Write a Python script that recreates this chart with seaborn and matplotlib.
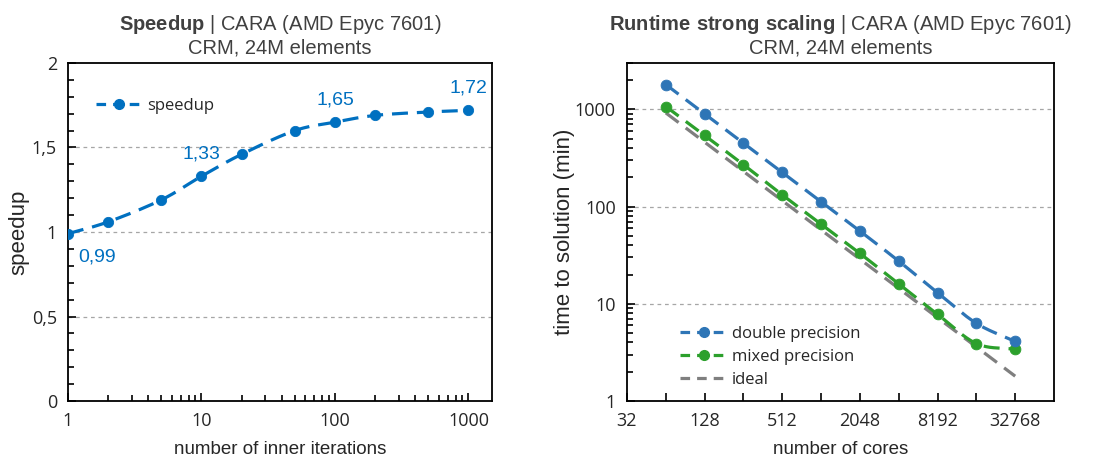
import numpy as np
import pandas as pd
import seaborn as sns
import matplotlib.pyplot as plt
from matplotlib.ticker import FixedLocator, NullFormatter, FuncFormatter

# speedup vs inner iterations
iters = [1, 2, 5, 10, 20, 50, 100, 200, 500, 1000]
speedup = [0.99, 1.06, 1.19, 1.33, 1.46, 1.60, 1.65, 1.69, 1.71, 1.72]
labeled = {1: "0,99", 10: "1,33", 100: "1,65", 1000: "1,72"}

# strong scaling
cores = [64, 128, 256, 512, 1024, 2048, 4096, 8192, 16384, 32768]
t_double = [1800, 900, 450, 225, 112, 56, 27.5, 13, 6.3, 4.1]
t_mixed = [1070, 540, 270, 132, 66, 33, 16, 7.8, 3.9, 3.4]
t_ideal = [920, 460, 230, 115, 57.5, 28.8, 14.4, 7.2, 3.6, 1.8]

BLUE_L = "#0070C0"
BLUE = "#2E75B6"
GREEN = "#2CA02C"
GREY = "#7F7F7F"
DASH = (0, (5, 2.8))


def smooth(x, y, n=20):
    # catmull-rom through the points (like excel smoothed lines)
    x = np.asarray(x, float); y = np.asarray(y, float)
    p = np.column_stack([x, y])
    p = np.vstack([p[0] - (p[1] - p[0]), p, p[-1] + (p[-1] - p[-2])])
    out = []
    for i in range(1, len(p) - 2):
        p0, p1, p2, p3 = p[i - 1], p[i], p[i + 1], p[i + 2]
        t = np.linspace(0, 1, n, endpoint=False)[:, None]
        c = 0.5 * ((2 * p1) + (-p0 + p2) * t + (2 * p0 - 5 * p1 + 4 * p2 - p3) * t ** 2
                   + (-p0 + 3 * p1 - 3 * p2 + p3) * t ** 3)
        out.append(c)
    out.append(p[-2][None, :])
    out = np.vstack(out)
    return out[:, 0], out[:, 1]


sns.set_theme(style="white")
plt.rcParams["font.family"] = ["Liberation Sans", "DejaVu Sans"]
plt.rcParams["mathtext.fontset"] = "custom"
plt.rcParams["mathtext.bf"] = "Liberation Sans:bold"
plt.rcParams["mathtext.rm"] = "Liberation Sans"
plt.rcParams["axes.edgecolor"] = "black"
plt.rcParams["axes.linewidth"] = 1.3

fig = plt.figure(figsize=(11.11, 4.65), dpi=100)
ax1 = fig.add_axes([68 / 1111, 1 - 401 / 465, 424 / 1111, 338 / 465])
ax2 = fig.add_axes([627 / 1111, 1 - 401 / 465, 427 / 1111, 338 / 465])

tickfam = ["Open Sans", "DejaVu Sans"]

# ---- left: speedup
lx, ly = smooth(np.log10(iters), speedup)
sns.lineplot(x=10 ** lx, y=ly, ax=ax1, color=BLUE_L, lw=2.3, linestyle=DASH)
sns.scatterplot(x=iters, y=speedup, ax=ax1, color=BLUE_L, s=55, edgecolor=BLUE_L, zorder=5)
ax1.set_xscale("log")
ax1.set_xlim(1, 1500)
ax1.set_ylim(0, 2)
ax1.xaxis.set_major_locator(FixedLocator([1, 10, 100, 1000]))
ax1.xaxis.set_major_formatter(FuncFormatter(lambda v, p: f"{v:g}"))
ax1.xaxis.set_minor_locator(FixedLocator([m * 10 ** e for e in range(0, 3) for m in range(2, 10)]))
ax1.xaxis.set_minor_formatter(NullFormatter())
ax1.yaxis.set_major_locator(FixedLocator([0, 0.5, 1, 1.5, 2]))
ax1.yaxis.set_major_formatter(FuncFormatter(lambda v, p: f"{v:g}".replace(".", ",")))
ax1.yaxis.set_minor_locator(FixedLocator(np.arange(0.1, 2.0, 0.1)))
for v in [0.5, 1, 1.5]:
    ax1.axhline(v, color="#A6A6A6", lw=0.9, ls=(0, (3, 3)), zorder=0)
ax1.tick_params(which="both", direction="in", left=True, bottom=True, colors="black", labelcolor="#262626")
ax1.tick_params(which="major", length=6, width=1.2, pad=8)
ax1.tick_params(which="minor", length=4, width=1.2)
for lab in ax1.get_xticklabels() + ax1.get_yticklabels():
    lab.set_fontfamily(tickfam); lab.set_fontsize(13)
ax1.set_xlabel("number of inner iterations", fontsize=13.5, color="#262626", labelpad=8)
ax1.set_ylabel("speedup", fontsize=16, color="#262626", labelpad=2)
for xv, yv in zip(iters, speedup):
    if xv in labeled:
        if xv == 1:
            ax1.text(xv * 1.2, yv - 0.14, labeled[xv], color=BLUE_L, fontsize=14, ha="left", va="center")
        else:
            ax1.text(xv, yv + 0.13, labeled[xv], color=BLUE_L, fontsize=14, ha="center", va="center")
h = plt.Line2D([], [], color=BLUE_L, lw=2.3, linestyle=(0, (3, 2.2)), marker="o", markersize=7)
ax1.legend([h], ["speedup"], loc="center left", bbox_to_anchor=(0.03, 0.873), frameon=False,
           prop={"family": tickfam, "size": 12}, handlelength=2.8, handletextpad=0.3)
ax1.set_title("$\\bf{Speedup}$ | CARA (AMD Epyc 7601)\nCRM, 24M elements", fontsize=14.5,
              color="#404040", pad=7, linespacing=1.15)

# ---- right: strong scaling
df = pd.DataFrame({"cores": cores, "double": t_double, "mixed": t_mixed, "ideal": t_ideal})
for col, c in [("ideal", GREY), ("mixed", GREEN), ("double", BLUE)]:
    sx, sy = smooth(np.log2(df["cores"]), np.log10(df[col]))
    sns.lineplot(x=2 ** sx, y=10 ** sy, ax=ax2, color=c, lw=2.3, linestyle=DASH)
    if col != "ideal":
        sns.scatterplot(data=df, x="cores", y=col, ax=ax2, color=c, s=60, edgecolor=c, zorder=5)
ax2.set_xscale("log", base=2)
ax2.set_yscale("log")
ax2.set_xlim(32, 65536)
ax2.set_ylim(1, 3000)
ax2.xaxis.set_major_locator(FixedLocator([32, 128, 512, 2048, 8192, 32768]))
ax2.xaxis.set_major_formatter(FuncFormatter(lambda v, p: f"{v:g}"))
ax2.xaxis.set_minor_locator(FixedLocator([64, 256, 1024, 4096, 16384]))
ax2.xaxis.set_minor_formatter(NullFormatter())
ax2.yaxis.set_major_locator(FixedLocator([1, 10, 100, 1000]))
ax2.yaxis.set_major_formatter(FuncFormatter(lambda v, p: f"{v:g}"))
ax2.yaxis.set_minor_locator(FixedLocator([m * 10 ** e for e in range(0, 4) for m in range(2, 10)]))
ax2.yaxis.set_minor_formatter(NullFormatter())
for v in [10, 100, 1000]:
    ax2.axhline(v, color="#A6A6A6", lw=0.9, ls=(0, (3, 3)), zorder=0)
ax2.tick_params(which="both", direction="in", left=True, bottom=True, colors="black", labelcolor="#262626")
ax2.tick_params(which="major", length=6, width=1.2, pad=8)
ax2.tick_params(which="minor", length=6, width=1.2)
ax2.tick_params(axis="y", which="minor", length=4)
for lab in ax2.get_xticklabels() + ax2.get_yticklabels():
    lab.set_fontfamily(tickfam); lab.set_fontsize(13)
ax2.set_xlabel("number of cores", fontsize=13.5, color="#262626", labelpad=8)
ax2.set_ylabel("time to solution (min)", fontsize=16, color="#262626", labelpad=0)
hs = [plt.Line2D([], [], color=BLUE, lw=2.3, linestyle=(0, (3, 2.2)), marker="o", markersize=7),
      plt.Line2D([], [], color=GREEN, lw=2.3, linestyle=(0, (3, 2.2)), marker="o", markersize=7),
      plt.Line2D([], [], color=GREY, lw=2.3, linestyle=(0, (3, 2.2)))]
ax2.legend(hs, ["double precision", "mixed precision", "ideal"], loc="lower left",
           bbox_to_anchor=(0.09, -0.005), frameon=False,
           prop={"family": tickfam, "size": 12}, handlelength=2.8,
           handletextpad=0.3, labelspacing=0.42)
ax2.set_title("$\\bf{Runtime\\ strong\\ scaling}$ | CARA (AMD Epyc 7601)\nCRM, 24M elements",
              fontsize=14.5, color="#404040", pad=7, linespacing=1.15)

fig.savefig("out.png", dpi=100)
